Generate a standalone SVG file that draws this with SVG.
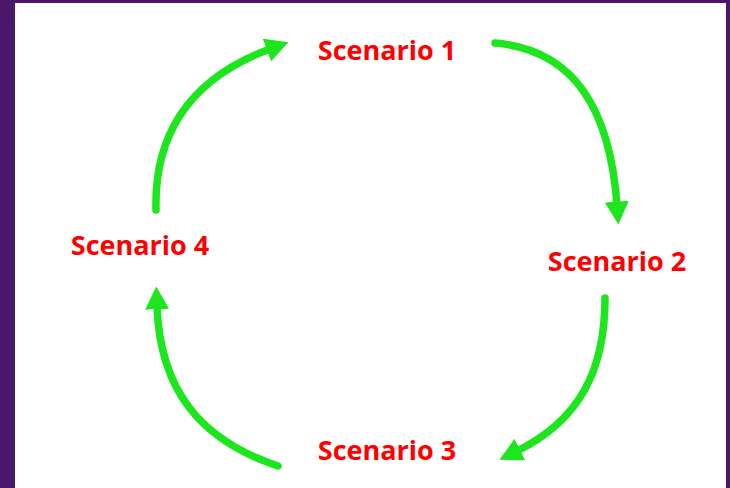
<svg xmlns="http://www.w3.org/2000/svg" width="730" height="488" viewBox="0 0 730 488">
<defs>
<style>
.lbl{font-family:"Open Sans","Liberation Sans",sans-serif;font-weight:700;font-size:27px;fill:#ff0000;text-anchor:middle}
.arc{fill:none;stroke:#1ee61e;stroke-width:7.5;stroke-linecap:round}
</style>
<marker id="ah" markerUnits="userSpaceOnUse" markerWidth="24" markerHeight="24" viewBox="0 -11 22 22" refX="3" refY="0" orient="auto">
<path d="M0,-11 L21,0 L0,11 Z" fill="#1ee61e"/>
</marker>
</defs>
<rect x="0" y="0" width="730" height="488" fill="#4a176c"/>
<rect x="15" y="3" width="711" height="485" fill="#ffffff"/>
<g id="connectors">
<path class="arc" d="M156,210 C154,140 185,80 270,49" marker-end="url(#ah)"/>
<path class="arc" d="M495,43 C575,50 610,110 617,205" marker-end="url(#ah)"/>
<path class="arc" d="M605,298 C605,370 580,420 517,451" marker-end="url(#ah)"/>
<path class="arc" d="M278,466 C200,440 160,390 157,306" marker-end="url(#ah)"/>
</g>
<g id="scenario1"><text class="lbl" x="387" y="60">Scenario 1</text></g>
<g id="scenario2"><text class="lbl" x="617" y="271">Scenario 2</text></g>
<g id="scenario3"><text class="lbl" x="387" y="460">Scenario 3</text></g>
<g id="scenario4"><text class="lbl" x="140" y="255">Scenario 4</text></g>
</svg>
